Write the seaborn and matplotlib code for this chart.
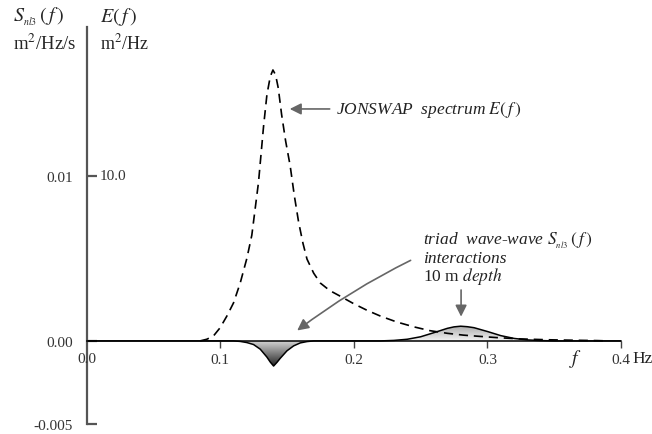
import numpy as np
import seaborn as sns
import matplotlib.pyplot as plt
from matplotlib.patches import PathPatch

sns.set_style("white")
plt.rcParams['font.family'] = ['Liberation Serif', 'DejaVu Serif']
plt.rcParams['mathtext.fontset'] = 'stix'

# JONSWAP spectrum E(f), m2/Hz
f_e = [0.085, 0.09, 0.095, 0.10, 0.105, 0.11, 0.115, 0.12, 0.1237, 0.1287,
       0.1325, 0.135, 0.1375, 0.1395, 0.1415, 0.1435, 0.146, 0.149, 0.1524,
       0.1555, 0.1587, 0.162, 0.165, 0.17, 0.175, 0.182, 0.19, 0.2, 0.21,
       0.22, 0.232, 0.245, 0.257, 0.27, 0.282, 0.295, 0.307, 0.325, 0.345,
       0.365, 0.382, 0.39]
e_vals = [0.0, 0.1, 0.3, 0.8, 1.5, 2.3, 3.5, 5.0, 6.4, 9.6,
          13.0, 14.9, 16.0, 16.4, 16.1, 15.3, 13.7, 12.1, 10.6,
          8.8, 7.2, 5.9, 4.95, 4.1, 3.5, 3.05, 2.7, 2.25, 1.85,
          1.5, 1.15, 0.85, 0.62, 0.46, 0.35, 0.27, 0.2, 0.12, 0.07,
          0.04, 0.02, 0.0]

# triad source term S_nl3(f), m2/Hz/s
f_s = [0.0, 0.11, 0.115, 0.12, 0.125, 0.13, 0.135, 0.1375, 0.14, 0.1425,
       0.145, 0.15, 0.155, 0.16, 0.165, 0.17, 0.22, 0.23, 0.24, 0.25, 0.26,
       0.27, 0.275, 0.28, 0.285, 0.29, 0.30, 0.31, 0.32, 0.33, 0.34, 0.35, 0.4]
s_vals = [0.0, 0.0, -0.00003, -0.0001, -0.00022, -0.0005, -0.00098, -0.00128,
          -0.00152, -0.0013, -0.00105, -0.0006, -0.0003, -0.00012, -0.00004,
          0.0, 0.0, 0.00003, 0.0001, 0.00025, 0.0005, 0.00076, 0.00085,
          0.00089, 0.00086, 0.0008, 0.00057, 0.00032, 0.00015, 0.00006,
          0.00002, 0.0, 0.0]

x_ticks = [0.1, 0.2, 0.3, 0.4]
x_ticklabels = ['0.1', '0.2', '0.3', '0.4']
y_ticks = [-0.005, 0.0, 0.01]
y_ticklabels = ['-0.005', '0.00', '0.01']

e_to_s = 0.01 / 10.0  # 10.0 m2/Hz sits level with 0.01 m2/Hz/s

fig = plt.figure(figsize=(6.52, 4.35), dpi=100)
ax = fig.add_axes([0.1327, 0.0241, 0.8198, 0.9115])

sns.lineplot(x=f_e, y=[v * e_to_s for v in e_vals], ax=ax, color='black',
             linewidth=1.2, linestyle=(0, (5.5, 3.5)))
sns.lineplot(x=f_s, y=s_vals, ax=ax, color='black', linewidth=1.1)

# gradient shading under S_nl3
s_arr = np.array(s_vals)
f_arr = np.array(f_s)
for lo, hi, ylo, yhi, c_top, c_bot in [(0.105, 0.175, -0.0016, 0.0, 0.85, 0.12),
                                       (0.215, 0.355, 0.0, 0.0009, 0.68, 0.95)]:
    m = (f_arr >= lo) & (f_arr <= hi)
    poly = ax.fill_between(f_arr[m], s_arr[m], 0, color='none', linewidth=0)
    path = poly.get_paths()[0]
    grad = np.linspace(c_bot, c_top, 100).reshape(-1, 1)
    img = ax.imshow(grad, extent=[lo, hi, ylo, yhi], origin='lower',
                    cmap='gray', vmin=0, vmax=1, aspect='auto', zorder=1)
    patch = PathPatch(path, transform=ax.transData, facecolor='none', edgecolor='none')
    ax.add_patch(patch)
    img.set_clip_path(patch)

ax.set_xlim(0, 0.4)
ax.set_ylim(-0.005, 0.019)

for s in ['top', 'right']:
    ax.spines[s].set_visible(False)
ax.spines['bottom'].set_position(('data', 0))
ax.spines['bottom'].set_color('black')
ax.spines['bottom'].set_linewidth(1.1)
ax.spines['left'].set_color('#555555')
ax.spines['left'].set_linewidth(1.6)

ax.set_xticks(x_ticks)
ax.set_xticklabels(x_ticklabels)
ax.set_yticks(y_ticks)
ax.set_yticklabels(y_ticklabels)
ax.tick_params(axis='x', bottom=True, direction='out', length=5, width=1,
               colors='#444444', labelcolor='#333333', labelsize=11, pad=4)
ax.tick_params(axis='y', left=True, direction='in', length=7, width=1.6,
               colors='#555555', labelcolor='#333333', labelsize=11, pad=10)

lab_y = -0.00105
ax.text(0.0, lab_y, '0.0', ha='center', va='center', fontsize=11, color='#333333')
ax.text(0.4085, lab_y, 'Hz', ha='left', va='center', fontsize=12.5, color='#222222')
ax.text(0.3657, lab_y, r'$f$', ha='center', va='center', fontsize=14, color='#222222')
ax.text(0.0095, 0.01, '10.0', ha='left', va='center', fontsize=11, color='#333333')

# axis headers
fig.text(0.02, 0.962, r'$S_{_{nl3}}\,(\,f\,)$', ha='left', va='center', fontsize=14.5)
fig.text(0.153, 0.962, r'$E(\,f\,)$', ha='left', va='center', fontsize=14.5)
fig.text(0.02, 0.9, r'm$^2$/Hz/s', ha='left', va='center', fontsize=13.5)
fig.text(0.153, 0.9, r'm$^2$/Hz', ha='left', va='center', fontsize=13)

arrow = dict(arrowstyle='-|>', color='#666666', lw=1.2, mutation_scale=17)
ax.annotate(r'JONSWAP  spectrum $E(\,f\,)$', xy=(0.150, 0.01404), xytext=(0.1865, 0.01404),
            ha='left', va='center', fontsize=12.5, style='italic', color='#222222',
            arrowprops=arrow)
ax.annotate('', xy=(0.156, 0.00053), xytext=(0.2444, 0.00495),
            arrowprops=dict(arrow, connectionstyle='arc3,rad=0.05'))
ax.annotate('', xy=(0.2803, 0.00130), xytext=(0.2803, 0.00325), arrowprops=arrow)

ax.text(0.252, 0.00610, r'triad  wave-wave $S_{_{nl3}}\,(\,f\,)$', ha='left', va='center',
        fontsize=12.5, style='italic', color='#222222')
ax.text(0.252, 0.00500, 'interactions', ha='left', va='center', fontsize=12.5,
        style='italic', color='#222222')
ax.text(0.252, 0.00398, r'10 m $\mathit{depth}$', ha='left', va='center', fontsize=12.5,
        color='#222222')

fig.savefig('out.png', dpi=100)
